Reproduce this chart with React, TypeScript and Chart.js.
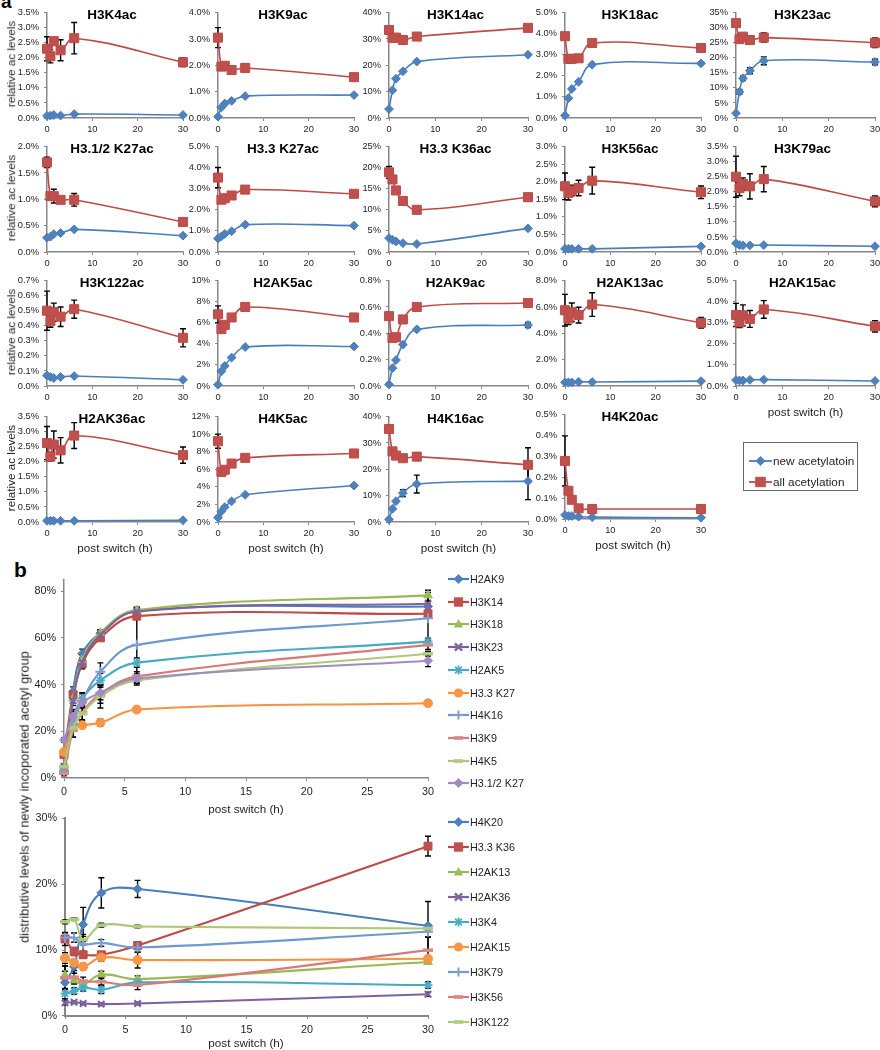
import React, { useEffect, useRef } from 'react';
import { Chart, registerables } from 'chart.js';

Chart.register(...registerables);

const FONT = "'Liberation Sans', Arial, Helvetica, sans-serif";
const AXIS = '#878787';
const TXT = '#1e1e1e';

// ---------- shared time points (hours post switch) ----------
const HOURS = [0, 0.75, 1.5, 3, 6, 30];

// ---------- panel a : new acetylation (blue) / all acetylation (red), values in % ----------
const H3K4_NEW = [0.07, 0.08, 0.1, 0.08, 0.13, 0.1];
const H3K4_ALL = [2.3, 2.05, 2.55, 2.25, 2.65, 1.85];
const H3K4_ALL_ERR = [0.4, 0.22, 0.12, 0.35, 0.52, 0.14];

const H3K9_NEW = [0.05, 0.4, 0.55, 0.65, 0.83, 0.87];
const H3K9_ALL = [3.05, 1.95, 1.98, 1.82, 1.9, 1.55];
const H3K9_ALL_ERR = [0.38, 0, 0, 0, 0.15, 0];

const H3K14_NEW = [3.4, 10.5, 14.9, 17.7, 21.4, 24.0];
const H3K14_ALL = [33.4, 30.4, 30.5, 29.6, 30.9, 34.2];

const H3K18_NEW = [0.12, 0.94, 1.38, 1.72, 2.53, 2.59];
const H3K18_ALL = [3.88, 2.8, 2.81, 2.83, 3.56, 3.32];

const H3K23_NEW = [1.6, 8.7, 13.2, 15.7, 19.0, 18.6];
const H3K23_NEW_ERR = [0, 0.8, 0.8, 1.0, 1.3, 0.9];
const H3K23_ALL = [31.5, 26.2, 27.0, 25.9, 26.7, 25.0];
const H3K23_ALL_ERR = [0, 0.8, 0.5, 1.2, 1.5, 1.6];

const H31K27_NEW = [0.27, 0.29, 0.34, 0.36, 0.43, 0.31];
const H31K27_ALL = [1.7, 1.06, 1.06, 0.99, 0.99, 0.57];
const H31K27_ALL_ERR = [0.1, 0, 0.13, 0, 0.12, 0];

const H33K27_NEW = [0.64, 0.74, 0.86, 0.98, 1.3, 1.25];
const H33K27_ALL = [3.53, 2.48, 2.55, 2.68, 2.96, 2.76];
const H33K27_ALL_ERR = [0.48, 0, 0, 0, 0, 0];

const H33K36_NEW = [3.3, 2.9, 2.5, 2.1, 1.9, 5.6];
const H33K36_ALL = [18.9, 17.2, 14.6, 12.1, 10.0, 13.0];
const H33K36_ALL_ERR = [1.4, 0, 0, 0, 0, 0.8];

const H3K56_NEW = [0.09, 0.09, 0.09, 0.09, 0.09, 0.16];
const H3K56_ALL = [1.87, 1.68, 1.75, 1.82, 2.03, 1.7];
const H3K56_ALL_ERR = [0.38, 0.2, 0.15, 0.22, 0.38, 0.18];

const H3K79_NEW = [0.29, 0.23, 0.22, 0.22, 0.23, 0.19];
const H3K79_ALL = [2.5, 2.12, 2.26, 2.18, 2.42, 1.68];
const H3K79_ALL_ERR = [0.68, 0.25, 0.2, 0.42, 0.42, 0.18];

const H3K122_NEW = [0.07, 0.06, 0.053, 0.06, 0.066, 0.041];
const H3K122_ALL = [0.5, 0.43, 0.49, 0.46, 0.51, 0.32];
const H3K122_ALL_ERR = [0.13, 0.04, 0.06, 0.065, 0.06, 0.06];

const H2AK5_NEW = [0.12, 1.4, 1.9, 2.7, 3.7, 3.75];
const H2AK5_ALL = [6.8, 5.4, 5.8, 6.5, 7.5, 6.5];
const H2AK5_ALL_ERR = [0.8, 0, 0, 0, 0, 0];

const H2AK9_NEW = [0.012, 0.135, 0.197, 0.314, 0.43, 0.463];
const H2AK9_NEW_ERR = [0, 0, 0, 0, 0, 0.02];
const H2AK9_ALL = [0.53, 0.365, 0.37, 0.505, 0.6, 0.63];
const H2AK9_ALL_ERR = [0, 0, 0, 0, 0, 0.022];

const H2AK13_NEW = [0.28, 0.27, 0.27, 0.32, 0.3, 0.37];
const H2AK13_ALL = [5.75, 5.12, 5.6, 5.38, 6.18, 4.8];
const H2AK13_ALL_ERR = [1.2, 0.45, 0.7, 0.6, 0.9, 0.4];

const H2AK15_NEW = [0.28, 0.26, 0.26, 0.29, 0.3, 0.24];
const H2AK15_ALL = [3.37, 3.02, 3.35, 3.18, 3.63, 2.83];
const H2AK15_ALL_ERR = [0.55, 0.25, 0.5, 0.4, 0.42, 0.27];

const H2AK36_NEW = [0.04, 0.04, 0.04, 0.04, 0.04, 0.06];
const H2AK36_ALL = [2.62, 2.17, 2.57, 2.38, 2.87, 2.22];
const H2AK36_ALL_ERR = [0.55, 0.15, 0.45, 0.42, 0.43, 0.27];

const H4K5_NEW = [0.5, 1.2, 1.7, 2.35, 3.1, 4.15];
const H4K5_ALL = [9.2, 5.7, 5.95, 6.65, 7.3, 7.8];
const H4K5_ALL_ERR = [0.8, 0, 0, 0, 0, 0.35];

const H4K16_NEW = [1.0, 5.0, 7.9, 11.0, 14.4, 15.5];
const H4K16_NEW_ERR = [0, 0, 0, 1.3, 3.4, 7];
const H4K16_ALL = [35.3, 26.8, 25.2, 24.2, 24.8, 21.7];
const H4K16_ALL_ERR = [0, 0, 0, 0, 1.4, 6.5];

const H4K20_NEW = [0.019, 0.014, 0.014, 0.011, 0.009, 0.006];
const H4K20_ALL = [0.278, 0.135, 0.092, 0.051, 0.048, 0.048];
const H4K20_ALL_ERR = [0.12, 0, 0, 0, 0, 0];

const LEGEND_A = ['new acetylatoin', 'all acetylation'];

// ---------- panel b : distribution of newly incorporated acetyl group (%) ----------
const B_TOP_NAMES = ['H2AK9', 'H3K14', 'H3K18', 'H3K23', 'H2AK5', 'H3.3 K27', 'H4K16', 'H3K9', 'H4K5', 'H3.1/2 K27'];
const B_H2AK9 = [3.0, 37.0, 53.2, 62.0, 71.6, 73.4];
const B_H3K14 = [10.0, 35.4, 48.8, 60.0, 69.3, 70.3];
const B_H3K18 = [4.5, 34.0, 50.5, 62.2, 71.9, 78.2];
const B_H3K23 = [5.0, 33.0, 49.5, 61.3, 71.3, 74.6];
const B_H2AK5 = [2.5, 25.5, 34.0, 41.8, 49.4, 58.4];
const B_H33K27 = [11.2, 21.7, 22.6, 23.7, 29.3, 32.0];
const B_H4K16 = [3.0, 23.0, 33.0, 45.5, 57.0, 68.4];
const B_H3K9 = [2.0, 20.5, 28.0, 36.0, 43.5, 57.0];
const B_H4K5 = [4.8, 21.5, 27.5, 35.0, 41.8, 53.2];
const B_H31K27 = [16.3, 26.3, 32.2, 36.5, 42.6, 50.2];

const B_H2AK9_ERR = [1, 2, 2, 1.5, 1.5, 1];
const B_H3K14_ERR = [0, 1.5, 2, 1, 1.5, 0];
const B_H3K18_ERR = [1, 2, 2, 1, 1, 2.2];
const B_H3K23_ERR = [1, 2, 2, 1, 1, 1];
const B_H2AK5_ERR = [1, 3, 2.5, 3, 2, 1.5];
const B_H33K27_ERR = [1, 1, 1, 1.5, 1, 0];
const B_H4K16_ERR = [2, 3, 3, 3.8, 16, 11];
const B_H3K9_ERR = [1, 3, 3, 4, 2, 2];
const B_H4K5_ERR = [1, 4, 3, 5, 2, 1];
const B_H31K27_ERR = [1, 3, 2, 3, 2, 2.5];

const B_BOT_NAMES = ['H4K20', 'H3.3 K36', 'H2AK13', 'H2AK36', 'H3K4', 'H2AK15', 'H3K79', 'H3K56', 'H3K122'];
const B_H4K20 = [5.1, 7.5, 13.9, 18.7, 19.3, 13.7];
const B_H33K36 = [11.7, 9.8, 9.3, 9.3, 10.7, 25.8];
const B_H2AK13 = [6.2, 5.4, 4.8, 6.3, 5.6, 8.2];
const B_H2AK36 = [2.0, 2.1, 1.9, 1.8, 1.9, 3.3];
const B_H3K4 = [3.4, 3.8, 4.3, 4.0, 5.1, 4.7];
const B_H2AK15 = [8.8, 8.1, 7.5, 8.9, 8.5, 8.7];
const B_H3K79 = [11.9, 11.9, 10.9, 11.1, 10.4, 12.8];
const B_H3K56 = [5.8, 5.9, 5.3, 5.2, 4.7, 10.0];
const B_H3K122 = [14.3, 14.7, 11.6, 13.8, 13.6, 13.3];

const B_H4K20_ERR = [2.5, 1, 2.6, 2.3, 1.3, 3.7];
const B_H33K36_ERR = [1.0, 0.6, 0.5, 0.4, 0.6, 1.5];
const B_H2AK13_ERR = [0.6, 0.5, 0.5, 0.5, 0.5, 0.3];
const B_H2AK36_ERR = [0.3, 0.2, 0.2, 0.2, 0.2, 0.3];
const B_H3K4_ERR = [0.8, 0.5, 0.5, 0.6, 0.5, 0.5];
const B_H2AK15_ERR = [0.8, 0.5, 0.5, 0.6, 1.2, 0.4];
const B_H3K79_ERR = [0.7, 0.7, 1.2, 0.5, 0.7, 0.8];
const B_H3K56_ERR = [1.8, 1.0, 0.6, 0.5, 0.7, 2.0];
const B_H3K122_ERR = [0.3, 0.2, 0.8, 0.3, 0.2, 0.2];

// ---------- tables built from the arrays ----------
type PanelA = {
  title: string; row: number; col: number; max: number; step: number; dec: number;
  nw: number[]; al: number[]; nwErr?: number[]; alErr?: number[];
  xTitle?: boolean; top?: number; h?: number;
};

const PANELS_A: PanelA[] = [
  { title: 'H3K4ac', row: 0, col: 0, max: 3.5, step: 0.5, dec: 1, nw: H3K4_NEW, al: H3K4_ALL, alErr: H3K4_ALL_ERR },
  { title: 'H3K9ac', row: 0, col: 1, max: 4, step: 1, dec: 1, nw: H3K9_NEW, al: H3K9_ALL, alErr: H3K9_ALL_ERR },
  { title: 'H3K14ac', row: 0, col: 2, max: 40, step: 10, dec: 0, nw: H3K14_NEW, al: H3K14_ALL },
  { title: 'H3K18ac', row: 0, col: 3, max: 5, step: 1, dec: 1, nw: H3K18_NEW, al: H3K18_ALL },
  { title: 'H3K23ac', row: 0, col: 4, max: 35, step: 5, dec: 0, nw: H3K23_NEW, al: H3K23_ALL, nwErr: H3K23_NEW_ERR, alErr: H3K23_ALL_ERR },
  { title: 'H3.1/2 K27ac', row: 1, col: 0, max: 2, step: 0.5, dec: 1, nw: H31K27_NEW, al: H31K27_ALL, alErr: H31K27_ALL_ERR },
  { title: 'H3.3 K27ac', row: 1, col: 1, max: 5, step: 1, dec: 1, nw: H33K27_NEW, al: H33K27_ALL, alErr: H33K27_ALL_ERR },
  { title: 'H3.3 K36ac', row: 1, col: 2, max: 25, step: 5, dec: 0, nw: H33K36_NEW, al: H33K36_ALL, alErr: H33K36_ALL_ERR },
  { title: 'H3K56ac', row: 1, col: 3, max: 3, step: 0.5, dec: 1, nw: H3K56_NEW, al: H3K56_ALL, alErr: H3K56_ALL_ERR },
  { title: 'H3K79ac', row: 1, col: 4, max: 3.5, step: 0.5, dec: 1, nw: H3K79_NEW, al: H3K79_ALL, alErr: H3K79_ALL_ERR },
  { title: 'H3K122ac', row: 2, col: 0, max: 0.7, step: 0.1, dec: 1, nw: H3K122_NEW, al: H3K122_ALL, alErr: H3K122_ALL_ERR },
  { title: 'H2AK5ac', row: 2, col: 1, max: 10, step: 2, dec: 0, nw: H2AK5_NEW, al: H2AK5_ALL, alErr: H2AK5_ALL_ERR },
  { title: 'H2AK9ac', row: 2, col: 2, max: 0.8, step: 0.2, dec: 1, nw: H2AK9_NEW, al: H2AK9_ALL, nwErr: H2AK9_NEW_ERR, alErr: H2AK9_ALL_ERR },
  { title: 'H2AK13ac', row: 2, col: 3, max: 8, step: 2, dec: 1, nw: H2AK13_NEW, al: H2AK13_ALL, alErr: H2AK13_ALL_ERR },
  { title: 'H2AK15ac', row: 2, col: 4, max: 5, step: 1, dec: 1, nw: H2AK15_NEW, al: H2AK15_ALL, alErr: H2AK15_ALL_ERR, xTitle: true },
  { title: 'H2AK36ac', row: 3, col: 0, max: 3.5, step: 0.5, dec: 1, nw: H2AK36_NEW, al: H2AK36_ALL, alErr: H2AK36_ALL_ERR, xTitle: true },
  { title: 'H4K5ac', row: 3, col: 1, max: 12, step: 2, dec: 0, nw: H4K5_NEW, al: H4K5_ALL, alErr: H4K5_ALL_ERR, xTitle: true },
  { title: 'H4K16ac', row: 3, col: 2, max: 40, step: 10, dec: 0, nw: H4K16_NEW, al: H4K16_ALL, nwErr: H4K16_NEW_ERR, alErr: H4K16_ALL_ERR, xTitle: true },
  { title: 'H4K20ac', row: 3, col: 3, max: 0.5, step: 0.1, dec: 1, nw: H4K20_NEW, al: H4K20_ALL, alErr: H4K20_ALL_ERR, xTitle: true, top: 412, h: 107 },
];

const B_TOP_VALUES = [B_H2AK9, B_H3K14, B_H3K18, B_H3K23, B_H2AK5, B_H33K27, B_H4K16, B_H3K9, B_H4K5, B_H31K27];
const B_TOP_ERRS = [B_H2AK9_ERR, B_H3K14_ERR, B_H3K18_ERR, B_H3K23_ERR, B_H2AK5_ERR, B_H33K27_ERR, B_H4K16_ERR, B_H3K9_ERR, B_H4K5_ERR, B_H31K27_ERR];
const B_BOT_VALUES = [B_H4K20, B_H33K36, B_H2AK13, B_H2AK36, B_H3K4, B_H2AK15, B_H3K79, B_H3K56, B_H3K122];
const B_BOT_ERRS = [B_H4K20_ERR, B_H33K36_ERR, B_H2AK13_ERR, B_H2AK36_ERR, B_H3K4_ERR, B_H2AK15_ERR, B_H3K79_ERR, B_H3K56_ERR, B_H3K122_ERR];

// ---------- styles ----------
const BLUE = { line: '#4A7EBB', fill: '#4F81BD' };
const RED = { line: '#BE4B48', fill: '#C0504D' };

type Sty = { line: string; fill: string; marker: string };
const STYLE_B: Sty[] = [
  { line: '#4A7EBB', fill: '#4F81BD', marker: 'diamond' },
  { line: '#BE4B48', fill: '#C0504D', marker: 'square' },
  { line: '#98B954', fill: '#9BBB59', marker: 'triangle' },
  { line: '#7D60A0', fill: '#8064A2', marker: 'x' },
  { line: '#46AAC5', fill: '#4BACC6', marker: 'star' },
  { line: '#F69240', fill: '#F79646', marker: 'circle' },
  { line: '#6F97D0', fill: '#7C9FD3', marker: 'plus' },
  { line: '#D57A78', fill: '#D98785', marker: 'dash' },
  { line: '#ADC978', fill: '#B0CB7C', marker: 'dash' },
  { line: '#A08CC0', fill: '#A08CC0', marker: 'diamond' },
];

const POINT_STYLE: Record<string, any> = {
  diamond: { pointStyle: 'rectRot', pointRadius: 4.5, pointBorderWidth: 1 },
  square: { pointStyle: 'rect', pointRadius: 5.6, pointBorderWidth: 1 },
  triangle: { pointStyle: 'triangle', pointRadius: 5, pointBorderWidth: 1 },
  x: { pointStyle: 'crossRot', pointRadius: 4.5, pointBorderWidth: 2.2 },
  star: { pointStyle: 'star', pointRadius: 4.5, pointBorderWidth: 1.8 },
  circle: { pointStyle: 'circle', pointRadius: 4.5, pointBorderWidth: 1 },
  plus: { pointStyle: 'cross', pointRadius: 5, pointBorderWidth: 2 },
  dash: { pointStyle: 'line', pointRadius: 5, pointBorderWidth: 3.5 },
};

// ---------- layout ----------
const COL_LEFT = [47, 218, 389, 565, 736];
const COL_W = [136, 136, 139, 136, 139];
const ROW_TOP = [10, 144, 278, 414];
const PLOT_H = 108;

// ---------- error bar plugin ----------
const errorBarPlugin = {
  id: 'errorBars',
  beforeDatasetsDraw(chart: any) {
    const ctx = chart.ctx;
    const ys = chart.scales.y;
    chart.data.datasets.forEach((ds: any, i: number) => {
      const errs = ds.errorBars;
      if (!errs) return;
      const meta = chart.getDatasetMeta(i);
      ctx.save();
      ctx.strokeStyle = '#000';
      ctx.lineWidth = ds.errorWidth || 1.4;
      const cap = ds.errorCap || 3;
      meta.data.forEach((pt: any, j: number) => {
        const e = errs[j];
        if (!e) return;
        const v = ds.data[j].y;
        const y1 = ys.getPixelForValue(v + e);
        const y2 = ys.getPixelForValue(v - e);
        const x = pt.x;
        ctx.beginPath();
        ctx.moveTo(x, y1); ctx.lineTo(x, y2);
        ctx.moveTo(x - cap, y1); ctx.lineTo(x + cap, y1);
        ctx.moveTo(x - cap, y2); ctx.lineTo(x + cap, y2);
        ctx.stroke();
      });
      ctx.restore();
    });
  },
};

const pts = (vals: number[]) => vals.map((v, i) => ({ x: HOURS[i], y: v }));

type AxisOpt = { max: number; step: number; dec: number; xStep: number; fs: number; yW: number; xH: number; yPad: number; xPad: number; axisW: number };

function buildScales(o: AxisOpt) {
  const grid = { display: true, drawOnChartArea: false, drawTicks: true, tickLength: 3, color: AXIS, lineWidth: 1 };
  const border = { display: true, color: AXIS, width: o.axisW };
  return {
    x: {
      type: 'linear', min: 0, max: 30,
      ticks: { stepSize: o.xStep, font: { family: FONT, size: o.fs }, color: TXT, padding: o.xPad, maxRotation: 0, autoSkip: false },
      grid, border,
      afterFit: (s: any) => { s.height = o.xH; },
    },
    y: {
      type: 'linear', min: 0, max: o.max,
      ticks: {
        stepSize: o.step, includeBounds: false, autoSkip: false,
        font: { family: FONT, size: o.fs }, color: TXT, padding: o.yPad,
        callback: (v: any) => Number(v).toFixed(o.dec) + '%',
      },
      grid, border,
      afterFit: (s: any) => { s.width = o.yW; },
    },
  };
}

function ChartBox(props: { left: number; top: number; plotW: number; plotH: number; yW: number; xH: number; padT: number; padR: number; datasets: any[]; axis: AxisOpt }) {
  const { left, top, plotW, plotH, yW, xH, padT, padR, datasets, axis } = props;
  const ref = useRef<HTMLCanvasElement | null>(null);
  const w = yW + plotW + padR;
  const h = padT + plotH + xH;
  useEffect(() => {
    if (!ref.current) return;
    const chart = new Chart(ref.current, {
      type: 'line',
      data: { datasets },
      options: {
        animation: false,
        responsive: false,
        layout: { padding: { top: padT, right: padR, left: 0, bottom: 0 } },
        plugins: { legend: { display: false }, tooltip: { enabled: false }, title: { display: false } },
        scales: buildScales(axis) as any,
      },
      plugins: [errorBarPlugin],
    } as any);
    return () => chart.destroy();
  }, []);
  return (
    <canvas ref={ref} width={w} height={h}
      style={{ position: 'absolute', left: left - yW, top: top - padT, width: w, height: h }} />
  );
}

function Text(props: { x: number; y: number; size: number; bold?: boolean; rotate?: boolean; children: any; color?: string }) {
  const { x, y, size, bold, rotate, children, color } = props;
  return (
    <div style={{
      position: 'absolute', left: x, top: y, whiteSpace: 'nowrap',
      transform: `translate(-50%, -50%)${rotate ? ' rotate(-90deg)' : ''}`,
      fontFamily: FONT, fontSize: size, fontWeight: bold ? 'bold' : 'normal',
      color: color || TXT, lineHeight: 1,
    }}>{children}</div>
  );
}

function Glyph(props: { marker: string; line: string; fill: string; w: number; h: number; lw: number }) {
  const { marker, line, fill, w, h, lw } = props;
  const cx = w / 2, cy = h / 2;
  let m: any = null;
  if (marker === 'diamond') m = <polygon points={`${cx},${cy - 4.6} ${cx + 4.6},${cy} ${cx},${cy + 4.6} ${cx - 4.6},${cy}`} fill={fill} stroke={line} strokeWidth={0.8} />;
  else if (marker === 'square') m = <rect x={cx - 4.2} y={cy - 4.2} width={8.4} height={8.4} fill={fill} stroke={line} strokeWidth={0.8} />;
  else if (marker === 'bigsquare') m = <rect x={cx - 4.8} y={cy - 4.8} width={9.6} height={9.6} fill={fill} stroke={line} strokeWidth={0.8} />;
  else if (marker === 'triangle') m = <polygon points={`${cx},${cy - 5} ${cx + 4.6},${cy + 3.5} ${cx - 4.6},${cy + 3.5}`} fill={fill} />;
  else if (marker === 'x') m = <path d={`M${cx - 3.6},${cy - 3.6}L${cx + 3.6},${cy + 3.6}M${cx - 3.6},${cy + 3.6}L${cx + 3.6},${cy - 3.6}`} stroke={fill} strokeWidth={2.4} />;
  else if (marker === 'star') m = <path d={`M${cx - 3.4},${cy - 3.4}L${cx + 3.4},${cy + 3.4}M${cx - 3.4},${cy + 3.4}L${cx + 3.4},${cy - 3.4}M${cx},${cy - 4.6}L${cx},${cy + 4.6}M${cx - 4.6},${cy}L${cx + 4.6},${cy}`} stroke={fill} strokeWidth={1.8} />;
  else if (marker === 'circle') m = <circle cx={cx} cy={cy} r={4.6} fill={fill} />;
  else if (marker === 'plus') m = <path d={`M${cx - 4.6},${cy}L${cx + 4.6},${cy}M${cx},${cy - 4.6}L${cx},${cy + 4.6}`} stroke={fill} strokeWidth={2} />;
  else if (marker === 'dash') m = <path d={`M${cx - 4.6},${cy}L${cx + 4.6},${cy}`} stroke={fill} strokeWidth={3.6} />;
  return (
    <svg width={w} height={h} style={{ display: 'block', flex: 'none' }}>
      <line x1={0} y1={cy} x2={w} y2={cy} stroke={line} strokeWidth={lw} />
      {m}
    </svg>
  );
}

function LegendB(props: { names: string[]; y0: number; dy: number }) {
  const { names, y0, dy } = props;
  return (
    <>
      {names.map((n, i) => {
        const s = STYLE_B[i];
        return (
          <div key={n} style={{ position: 'absolute', left: 448, top: y0 + i * dy - 6, display: 'flex', alignItems: 'center', height: 12 }}>
            <Glyph marker={s.marker} line={s.line} fill={s.fill} w={21} h={12} lw={2.2} />
            <span style={{ fontFamily: FONT, fontSize: 10.8, color: TXT, marginLeft: 1, lineHeight: '12px', whiteSpace: 'nowrap' }}>{n}</span>
          </div>
        );
      })}
    </>
  );
}

function seriesB(values: number[][], errs: number[][]) {
  const n = values.length;
  return values.map((vals, i) => {
    const s = STYLE_B[i];
    return {
      data: pts(vals),
      errorBars: errs[i],
      errorCap: 3,
      borderColor: s.line,
      backgroundColor: s.fill,
      pointBackgroundColor: s.fill,
      pointBorderColor: s.marker === 'diamond' || s.marker === 'square' ? s.line : s.fill,
      borderWidth: 2.1,
      tension: 0.4,
      fill: false,
      clip: false,
      order: n - 1 - i,
      ...POINT_STYLE[s.marker],
    };
  });
}

function panelADatasets(p: PanelA) {
  return [
    {
      data: pts(p.al), errorBars: p.alErr, errorCap: 3,
      borderColor: RED.line, backgroundColor: RED.fill, pointBackgroundColor: RED.fill, pointBorderColor: RED.line,
      pointStyle: 'rect', pointRadius: 6.4, pointBorderWidth: 1, borderWidth: 1.6, tension: 0.4, fill: false, clip: false, order: 0,
    },
    {
      data: pts(p.nw), errorBars: p.nwErr, errorCap: 3,
      borderColor: BLUE.line, backgroundColor: BLUE.fill, pointBackgroundColor: BLUE.fill, pointBorderColor: BLUE.line,
      pointStyle: 'rectRot', pointRadius: 4.4, pointBorderWidth: 1, borderWidth: 1.6, tension: 0.4, fill: false, clip: false, order: 1,
    },
  ];
}

export default function App() {
  const yTitleB = 'distributive levels of newly incoporated acetyl group';
  return (
    <div style={{ position: 'absolute', left: 0, top: 0, width: 880, height: 1050, background: '#fff', overflow: 'hidden' }}>
      <div style={{ position: 'absolute', left: 1, top: -8, fontFamily: FONT, fontWeight: 'bold', fontSize: 19, lineHeight: '19px', color: '#000' }}>a</div>
      <div style={{ position: 'absolute', left: 14, top: 559, fontFamily: FONT, fontWeight: 'bold', fontSize: 21, lineHeight: '21px', color: '#000' }}>b</div>

      {PANELS_A.map((p) => {
        const left = COL_LEFT[p.col];
        const w = COL_W[p.col];
        const top = p.top ?? ROW_TOP[p.row];
        const h = p.h ?? PLOT_H;
        return (
          <React.Fragment key={p.title}>
            <ChartBox left={left} top={top} plotW={w} plotH={h} yW={42} xH={18} padT={8} padR={10}
              datasets={panelADatasets(p)}
              axis={{ max: p.max, step: p.step, dec: p.dec, xStep: 10, fs: 9.3, yW: 42, xH: 18, yPad: 5, xPad: 3, axisW: 1.5 }} />
            <Text x={left + w / 2 - 3} y={top + 5} size={13.5} bold color="#000">{p.title}</Text>
            {p.xTitle ? <Text x={left + w / 2} y={top + h + 26} size={11.7}>post switch (h)</Text> : null}
            {p.col === 0 ? <Text x={11} y={top + h / 2} size={11.7} rotate>relative ac levels</Text> : null}
          </React.Fragment>
        );
      })}

      {/* legend of panel a */}
      <div style={{ position: 'absolute', left: 743, top: 442, width: 115, height: 49, boxSizing: 'border-box', border: '1.5px solid #6a6a6a', background: '#fff' }} />
      {LEGEND_A.map((t, i) => (
        <div key={t} style={{ position: 'absolute', left: 749, top: 461 + i * 21 - 7, display: 'flex', alignItems: 'center', height: 14 }}>
          <Glyph marker={i === 0 ? 'diamond' : 'bigsquare'} line={i === 0 ? BLUE.line : RED.line} fill={i === 0 ? BLUE.fill : RED.fill} w={23} h={14} lw={1.8} />
          <span style={{ fontFamily: FONT, fontSize: 11.8, color: TXT, marginLeft: 1, lineHeight: '14px', whiteSpace: 'nowrap' }}>{t}</span>
        </div>
      ))}

      {/* panel b */}
      <ChartBox left={64} top={576} plotW={364} plotH={202} yW={50} xH={22} padT={8} padR={12}
        datasets={seriesB(B_TOP_VALUES, B_TOP_ERRS)}
        axis={{ max: 85, step: 20, dec: 0, xStep: 5, fs: 10.8, yW: 50, xH: 22, yPad: 5, xPad: 5, axisW: 1.5 }} />
      <ChartBox left={65} top={815} plotW={363} plotH={201} yW={50} xH={22} padT={8} padR={12}
        datasets={seriesB(B_BOT_VALUES, B_BOT_ERRS)}
        axis={{ max: 30, step: 10, dec: 0, xStep: 5, fs: 10.8, yW: 50, xH: 22, yPad: 5, xPad: 5, axisW: 2 }} />
      <Text x={246} y={809} size={11.7}>post switch (h)</Text>
      <Text x={246} y={1043} size={11.7}>post switch (h)</Text>
      <Text x={25} y={797} size={12.8} rotate>{yTitleB}</Text>

      <LegendB names={B_TOP_NAMES} y0={579} dy={22.7} />
      <LegendB names={B_BOT_NAMES} y0={822} dy={25} />
    </div>
  );
}
